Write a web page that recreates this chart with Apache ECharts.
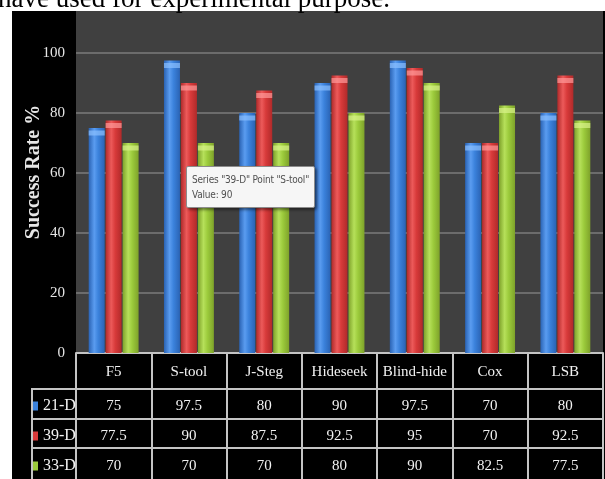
<!DOCTYPE html>
<html>
<head>
<meta charset="utf-8">
<script src="https://cdn.jsdelivr.net/npm/echarts@6/dist/echarts.min.js"></script>
<style>
  html, body { margin: 0; padding: 0; background: #ffffff; }
  #chart { width: 605px; height: 479px; }
</style>
</head>
<body>
<div id="chart"></div>
<script>
// Steganography tools and success rate (%) per feature set
const categories = ['F5', 'S-tool', 'J-Steg', 'Hideseek', 'Blind-hide', 'Cox', 'LSB'];
const seriesNames = ['21-D', '39-D', '33-D'];
const values21 = [75, 97.5, 80, 90, 97.5, 70, 80];
const values39 = [77.5, 90, 87.5, 92.5, 95, 70, 92.5];
const values33 = [70, 70, 70, 80, 90, 82.5, 77.5];
const yTicks = [0, 20, 40, 60, 80, 100];

const serif = '"Liberation Serif", "Times New Roman", serif';
const lineCol = '#c4c4c4';
const plotBg = '#404040';

function shade(dark, mid, light) {
  return {
    type: 'linear', x: 0, y: 0, x2: 1, y2: 0,
    colorStops: [
      { offset: 0, color: dark },
      { offset: 0.35, color: light },
      { offset: 0.6, color: mid },
      { offset: 1, color: dark }
    ]
  };
}
const fills = [
  shade('#2a63b4', '#3b82dc', '#5a9cf0'),
  shade('#b02a2a', '#d83a3a', '#ec5a5a'),
  shade('#7ea22a', '#9ccb3c', '#b6e05a')
];
const caps = ['#8cc0ff', '#ff9a9a', '#d8f28a'];
const allValues = [values21, values39, values33];

const barSeries = seriesNames.map((name, i) => ({
  name: name,
  type: 'bar',
  data: allValues[i],
  barWidth: 16,
  barGap: '6%',
  itemStyle: { color: fills[i] }
}));

// lighter caps on top of each bar
const capSeries = seriesNames.map((name, i) => ({
  name: name + ' cap',
  type: 'pictorialBar',
  data: allValues[i],
  barWidth: 16,
  barGap: '6%',
  symbol: 'rect',
  symbolSize: [16, 5],
  symbolPosition: 'end',
  symbolOffset: [0, '50%'],
  itemStyle: { color: caps[i], opacity: 0.7 },
  tooltip: { show: false },
  silent: true,
  z: 3
}));

// table rows under the plot, one axis per series
function rowAxis(offset, vals, tickLen, margin) {
  return {
    type: 'category',
    data: categories,
    position: 'bottom',
    offset: offset,
    axisLine: { show: true, lineStyle: { color: lineCol, width: 2 } },
    axisTick: { show: true, interval: 0, length: tickLen, lineStyle: { color: lineCol, width: 2 } },
    axisLabel: {
      interval: 0, margin: margin, color: '#f2f2f2',
      fontFamily: serif, fontSize: 15, lineHeight: 15,
      formatter: (v, idx) => String(vals[idx])
    },
    splitLine: { show: false }
  };
}

const chart = echarts.init(document.getElementById('chart'), null, { renderer: 'canvas' });

chart.setOption({
  animation: false,
  backgroundColor: '#ffffff',
  title: {
    text: 'have used for experimental purpose.',
    left: -2, top: -14, padding: 0,
    textStyle: { fontFamily: serif, fontSize: 27, fontWeight: 'normal', color: '#000000' }
  },
  graphic: [
    { type: 'rect', z: -10, shape: { x: 12, y: 11, width: 593, height: 468 }, style: { fill: '#000000' } },
    // headroom of the plot area above the 100 line
    { type: 'rect', z: -9, shape: { x: 76, y: 11, width: 527, height: 43 }, style: { fill: plotBg } },
    { type: 'line', z: 10, shape: { x1: 32, y1: 389, x2: 32, y2: 479 }, style: { stroke: lineCol, lineWidth: 2 } },
    { type: 'line', z: 10, shape: { x1: 31, y1: 389, x2: 76, y2: 389 }, style: { stroke: lineCol, lineWidth: 2 } },
    { type: 'line', z: 10, shape: { x1: 31, y1: 419, x2: 76, y2: 419 }, style: { stroke: lineCol, lineWidth: 2 } },
    { type: 'line', z: 10, shape: { x1: 31, y1: 448, x2: 76, y2: 448 }, style: { stroke: lineCol, lineWidth: 2 } }
  ],
  grid: {
    left: 76, right: 2, top: 53, bottom: 126,
    show: true, backgroundColor: plotBg, borderWidth: 0
  },
  legend: {
    orient: 'vertical',
    left: 33, top: 397, padding: 0,
    itemWidth: 5, itemHeight: 9, itemGap: 12,
    icon: 'rect',
    selectedMode: false,
    data: seriesNames.map((n, i) => ({ name: n, itemStyle: { color: fills[i].colorStops[2].color } })),
    textStyle: { color: '#f2f2f2', fontFamily: serif, fontSize: 16, lineHeight: 18 }
  },
  tooltip: {
    trigger: 'item',
    triggerOn: 'none',
    alwaysShowContent: true,
    transitionDuration: 0,
    position: [186, 166],
    backgroundColor: '#f6f6f6',
    borderColor: '#8c8c8c',
    borderWidth: 1,
    borderRadius: 2,
    padding: [5, 5],
    textStyle: { fontFamily: '"DejaVu Sans Condensed", "Liberation Sans", sans-serif', fontSize: 10, color: '#505050', lineHeight: 15 },
    extraCssText: 'box-shadow: 2px 2px 3px rgba(0,0,0,0.45); white-space: nowrap; letter-spacing: -0.2px;',
    formatter: p => 'Series "' + p.seriesName + '" Point "' + p.name + '"<br/>Value: ' + p.value
  },
  xAxis: [
    {
      type: 'category',
      data: categories,
      position: 'bottom',
      axisLine: { show: true, lineStyle: { color: lineCol, width: 2 } },
      axisTick: { show: true, interval: 0, length: 36, lineStyle: { color: lineCol, width: 2 } },
      axisLabel: { interval: 0, margin: 12, color: '#f2f2f2', fontFamily: serif, fontSize: 15, lineHeight: 15 }
    },
    rowAxis(36, values21, 30, 10),
    rowAxis(66, values39, 29, 10),
    rowAxis(95, values33, 32, 11)
  ],
  yAxis: {
    type: 'value',
    min: yTicks[0],
    max: yTicks[yTicks.length - 1],
    interval: yTicks[1] - yTicks[0],
    name: 'Success Rate %',
    nameLocation: 'middle',
    nameRotate: 90,
    nameGap: 32,
    nameMoveOverlap: false,
    nameTextStyle: { color: '#e6e6e6', fontFamily: serif, fontSize: 20, fontWeight: 'bold', padding: [0, 0, 0, 62] },
    axisLine: { show: false },
    axisTick: { show: false },
    axisLabel: { color: '#e6e6e6', fontFamily: serif, fontSize: 15, margin: 11 },
    splitLine: { show: true, lineStyle: { color: '#6c6c6c', width: 2 } }
  },
  series: barSeries.concat(capSeries)
});

chart.dispatchAction({ type: 'showTip', seriesIndex: 1, dataIndex: 1 });
</script>
</body>
</html>
